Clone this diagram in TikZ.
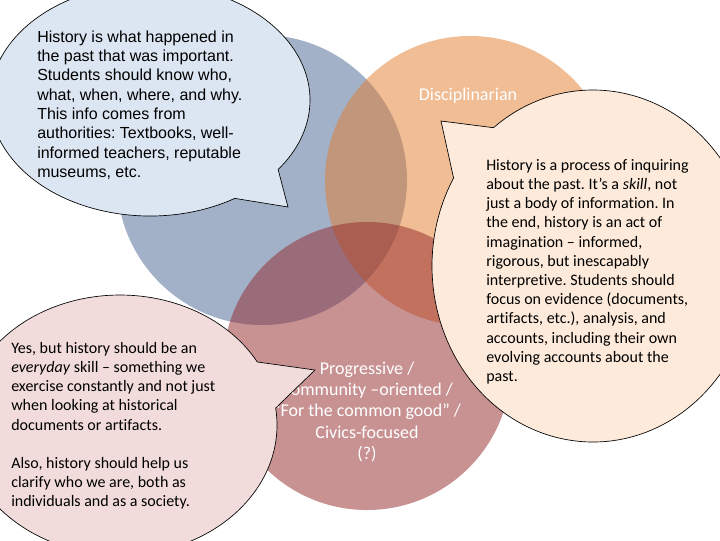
\documentclass[tikz,border=0pt]{standalone}
\usepackage{fontspec}
\setmainfont{Carlito}[Ligatures=NoCommon]
\newfontfamily\arialfont{Liberation Sans}
\definecolor{cblue}{RGB}{71,101,147}
\definecolor{corange}{RGB}{227,125,45}
\definecolor{cred}{RGB}{147,39,41}
\definecolor{bblue}{RGB}{220,230,242}
\definecolor{bpink}{RGB}{242,220,219}
\definecolor{bpeach}{RGB}{253,234,218}
\begin{document}
\frenchspacing
\begin{tikzpicture}[x=0.75pt,y=-0.75pt,
  venn/.style={fill opacity=0.5, draw=none},
  bubble/.style={draw=black, line width=0.5pt, line join=miter},
  btext/.style={anchor=north west, inner sep=0pt, align=left, text=black},
  ctext/.style={inner sep=0pt, text=white, align=center, font=\fontsize{13.5}{16}\selectfont}
]
\useasboundingbox (0,0) rectangle (720,540);
\fill[white] (0,0) rectangle (720,540);
% Venn circles
\fill[venn, cblue] (262,180) circle[radius=145];
\fill[venn, corange] (470,181) circle[radius=145];
\fill[venn, cred] (367,366) circle[radius=144];
% circle labels
\node[ctext, anchor=base] (dis) at (468,100) {Disciplinarian};
\node[ctext, anchor=north] (prog) at (367,359.3) {\rule{0pt}{11pt}Progressive /\\Community –oriented /\\“For the common good” /\\Civics-focused\\(?)};
% bubbles
\filldraw[bubble, fill=bblue] (150,100) ++(58:160 and 116) arc[start angle=58, end angle=396.8, x radius=160, y radius=116] -- (288,207) -- cycle;
\filldraw[bubble, fill=bpink] (120,425) ++(-7.5:157 and 130) arc[start angle=-7.5, end angle=331, x radius=157, y radius=130] -- (315,370) -- cycle;
\filldraw[bubble, fill=bpeach] (593,266) ++(231.8:161 and 176) arc[start angle=231.8, end angle=570, x radius=161, y radius=176] -- (441,121) -- cycle;
% bubble texts
\node[btext, font=\arialfont\fontsize{12}{14.47}\selectfont] (t1) at (37,28.7) {\rule{0pt}{10pt}History is what happened in\\the past that was important.\\Students should know who,\\what, when, where, and why.\\This info comes from\\authorities: Textbooks, well-\\informed teachers, reputable\\museums, etc.};
\node[btext, font=\fontsize{12}{14.4}\selectfont] (t2) at (11,339.7) {\rule{0pt}{10pt}Yes, but history should be an\\\emph{everyday} skill – something we\\exercise constantly and not just\\when looking at historical\\documents or artifacts.\\[14.4pt]Also, history should help us\\clarify who we are, both as\\individuals and as a society.};
\node[btext, font=\fontsize{12}{14.4}\selectfont] (t3) at (486,156.7) {\rule{0pt}{10pt}History is a process of inquiring\\about the past. It’s a \emph{skill}, not\\just a body of information. In\\the end, history is an act of\\imagination – informed,\\rigorous, but inescapably\\interpretive. Students should\\focus on evidence (documents,\\artifacts, etc.), analysis, and\\accounts, including their own\\evolving accounts about the\\past.};
\end{tikzpicture}
\end{document}
